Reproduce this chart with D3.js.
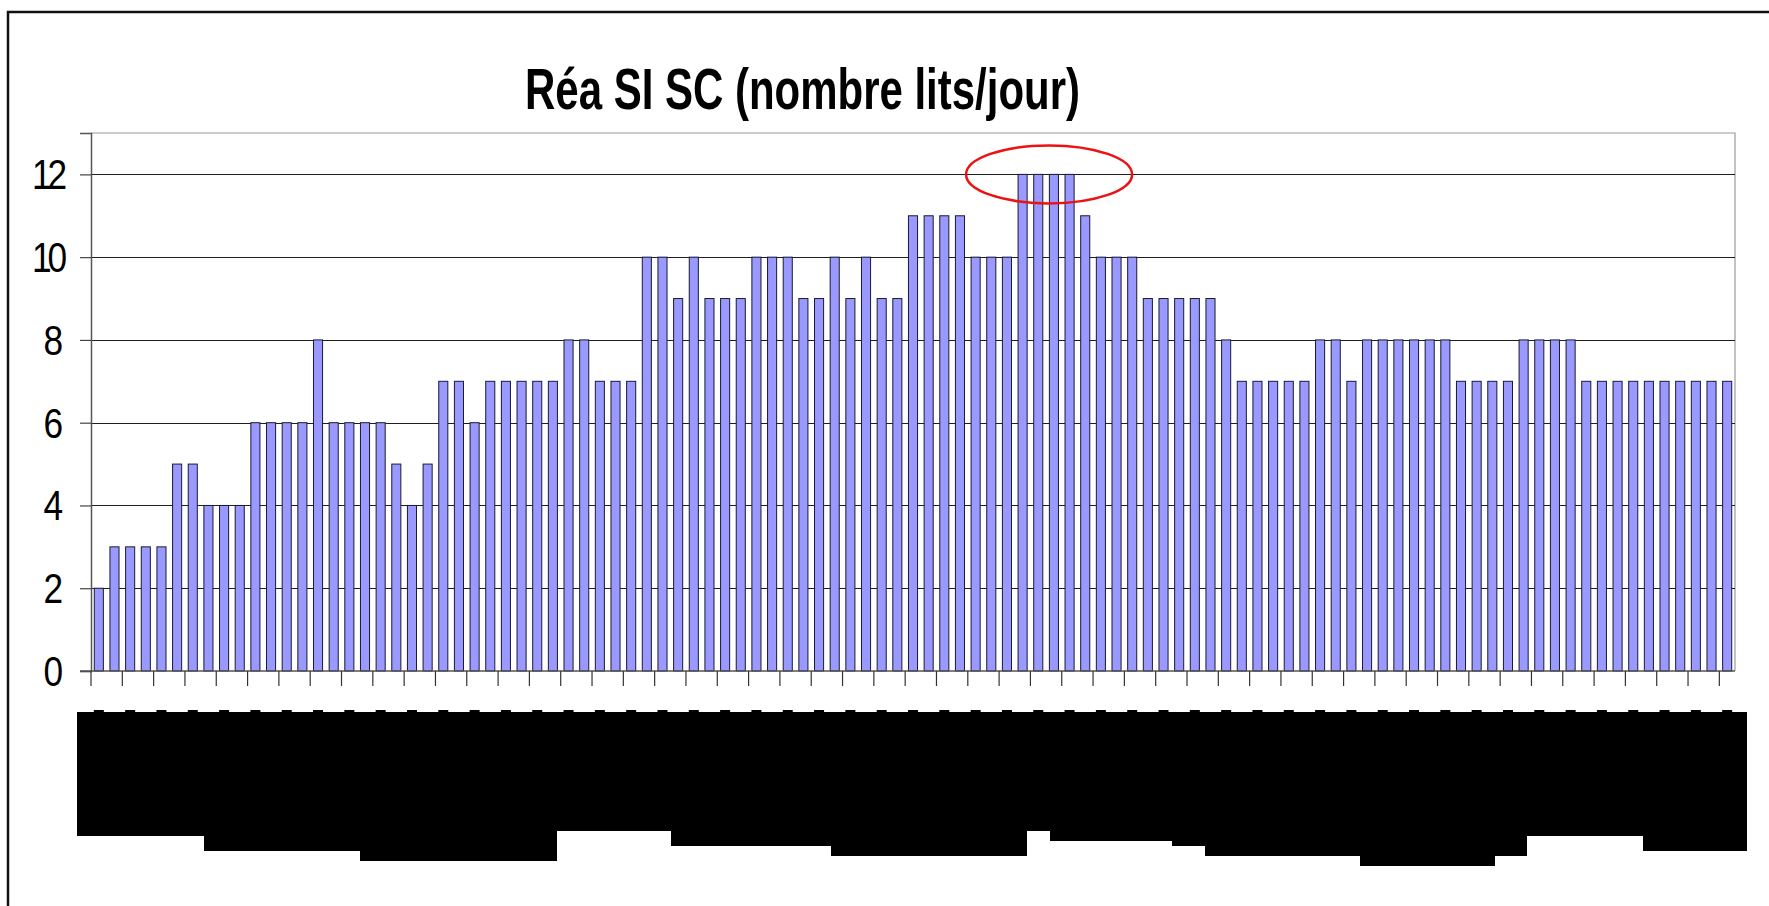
<!DOCTYPE html>
<html>
<head>
<meta charset="utf-8">
<script src="https://cdn.jsdelivr.net/npm/d3@7"></script>
<style>
  body { margin: 0; background: #ffffff; }
  svg { display: block; }
</style>
</head>
<body>
<script>
// -------------------------------------- data
var titleText = "Réa SI SC (nombre lits/jour)";
var beds = [2, 3, 3, 3, 3, 5, 5, 4, 4, 4, 6, 6, 6, 6, 8, 6, 6, 6, 6, 5,
	4, 5, 7, 7, 6, 7, 7, 7, 7, 7, 8, 8, 7, 7, 7, 10, 10, 9, 10, 9,
	9, 9, 10, 10, 10, 9, 9, 10, 9, 10, 9, 9, 11, 11, 11, 11, 10, 10, 10, 12,
	12, 12, 12, 11, 10, 10, 10, 9, 9, 9, 9, 9, 8, 7, 7, 7, 7, 7, 8, 8,
	7, 8, 8, 8, 8, 8, 8, 7, 7, 7, 7, 8, 8, 8, 8, 7, 7, 7, 7, 7,
	7, 7, 7, 7, 7];
var yTicks = [0, 2, 4, 6, 8, 10, 12];
// the peak days circled in red (indexes into beds)
var peakDays = [59, 60, 61, 62];
// hidden date labels: bottom edge of the black block, per x range
var maskSteps = [
	[77, 836], [204, 851], [360, 861], [557, 831], [671, 846], [831, 856],
	[1027, 831], [1050, 841], [1172, 846], [1205, 856], [1360, 866],
	[1495, 856], [1527, 836], [1643, 851], [1747, null]
];

var bar_fill = "#9999ff";
var bar_stroke = "#1a1a33";
var grid_col = "#1e1e1e";
var frame_col = "#9a9a9a";

var W = 1769, H = 906;
var plot = { left: 91, right: 1735, top: 133, bottom: 671 };

var svg = d3.select("body").append("svg")
	.attr("width", W)
	.attr("height", H);

// outer frame of the sheet (only left and top edges are in view)
svg.append("path")
	.attr("d", "M8,906 V12 H1769")
	.attr("fill", "none")
	.attr("stroke", "#111")
	.attr("stroke-width", 2.5);

// -------------------------------------- scales
var x = d3.scaleBand()
	.domain(d3.range(beds.length))
	.range([plot.left, plot.right])
	.paddingInner(0.42)
	.paddingOuter(0.21);

var y = d3.scaleLinear()
	.domain([0, 13])
	.range([plot.bottom, plot.top]);

// plot area frame (top + right in light grey)
svg.append("path")
	.attr("d", "M" + plot.left + "," + plot.top + " H" + plot.right + " V" + plot.bottom)
	.attr("fill", "none")
	.attr("stroke", frame_col)
	.attr("stroke-width", 1.2);

// gridlines
svg.append("g")
	.selectAll("line")
	.data(yTicks.filter(function (d) { return d > 0; }))
	.enter().append("line")
	.attr("x1", plot.left)
	.attr("x2", plot.right)
	.attr("y1", function (d) { return Math.round(y(d)) + 0.5; })
	.attr("y2", function (d) { return Math.round(y(d)) + 0.5; })
	.attr("stroke", grid_col)
	.attr("stroke-width", 1);

// bars
svg.append("g")
	.selectAll("rect")
	.data(beds)
	.enter().append("rect")
	.attr("x", function (d, i) { return x(i); })
	.attr("y", function (d) { return y(d); })
	.attr("width", x.bandwidth())
	.attr("height", function (d) { return y(0) - y(d); })
	.attr("fill", bar_fill)
	.attr("stroke", bar_stroke)
	.attr("stroke-width", 1);

// y axis
var yAxis = d3.axisLeft(y)
	.tickValues(yTicks)
	.tickSize(11)
	.tickFormat("");
var gy = svg.append("g")
	.attr("transform", "translate(" + plot.left + ",0)")
	.call(yAxis);
gy.select(".domain").attr("stroke", "#555").attr("stroke-width", 1.5);
gy.selectAll(".tick line").attr("stroke", "#444").attr("stroke-width", 1.2);

// y labels (condensed like the original)
svg.append("g")
	.selectAll("text")
	.data(yTicks)
	.enter().append("text")
	.attr("transform", function (d) { return "translate(63," + (y(d) + 15) + ") scale(0.82,1)"; })
	.attr("text-anchor", "end")
	.style("font-family", "'Liberation Sans', Arial, sans-serif")
	.style("font-size", "43px")
	.style("letter-spacing", function (d) { return d >= 10 ? "-5px" : "0px"; })
	.attr("fill", "#000")
	.text(function (d) { return d; });

// x axis: a tick between every second day
var xTickPos = d3.range(0, beds.length, 2).map(function (i) { return x(i) - x.step() * x.paddingInner() / 2; });
var gx = svg.append("g");
gx.append("line")
	.attr("x1", plot.left - 11)
	.attr("x2", plot.right)
	.attr("y1", plot.bottom)
	.attr("y2", plot.bottom)
	.attr("stroke", "#555")
	.attr("stroke-width", 1.5);
gx.selectAll("line.tick")
	.data(xTickPos)
	.enter().append("line")
	.attr("class", "tick")
	.attr("x1", function (d) { return d; })
	.attr("x2", function (d) { return d; })
	.attr("y1", plot.bottom)
	.attr("y2", plot.bottom + 15)
	.attr("stroke", "#333")
	.attr("stroke-width", 1.2);

// black block that hides the date labels
var maskPath = "M77,712";
maskSteps.forEach(function (s, i) {
	if (i === 0) return;
	var prev = maskSteps[i - 1];
	maskPath += " V" + prev[1] + " H" + s[0];
});
maskPath += " V712 Z";
svg.append("path")
	.attr("d", maskPath)
	.attr("fill", "#000");
// tops of the rotated labels peeking out
svg.append("g")
	.selectAll("rect")
	.data(d3.range(0, beds.length, 2))
	.enter().append("rect")
	.attr("x", function (i) { return x(i) + x.bandwidth() / 2 - 5; })
	.attr("y", 710)
	.attr("width", 10)
	.attr("height", 3)
	.attr("fill", "#000");

// title
svg.append("text")
	.attr("x", 525)
	.attr("y", 109)
	.attr("textLength", 555)
	.attr("lengthAdjust", "spacingAndGlyphs")
	.style("font-family", "'Liberation Sans', Arial, sans-serif")
	.style("font-weight", "bold")
	.style("font-size", "58px")
	.attr("fill", "#000")
	.text(titleText);

// red ellipse around the peak
var peakX0 = x(peakDays[0]), peakX1 = x(peakDays[peakDays.length - 1]) + x.bandwidth();
svg.append("ellipse")
	.attr("cx", (peakX0 + peakX1) / 2 + 3)
	.attr("cy", y(12))
	.attr("rx", 83)
	.attr("ry", 29)
	.attr("fill", "none")
	.attr("stroke", "#ee1111")
	.attr("stroke-width", 2.5);
</script>
</body>
</html>
